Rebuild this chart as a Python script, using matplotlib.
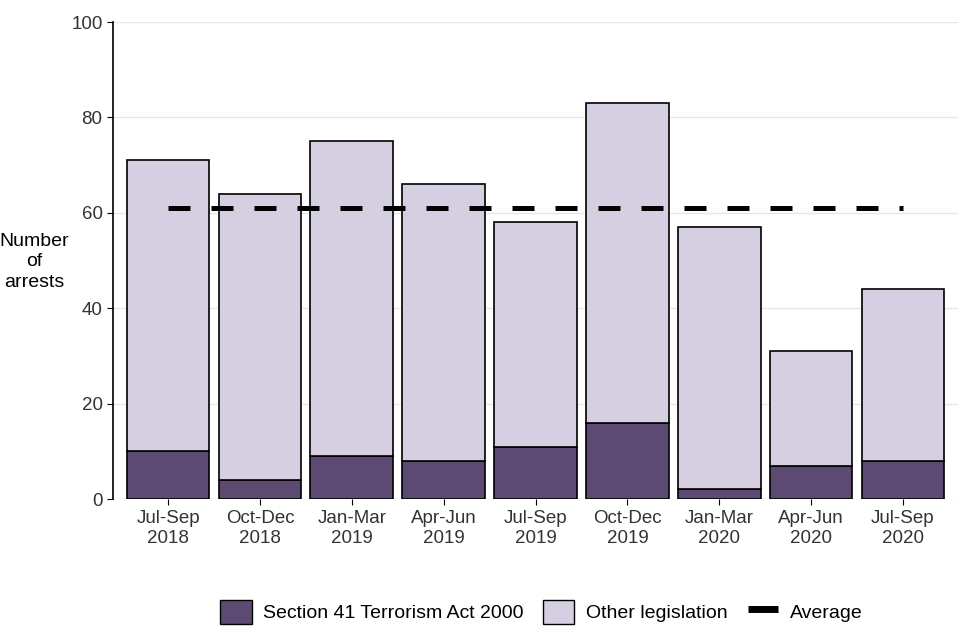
import numpy as np
import matplotlib.pyplot as plt
from matplotlib.patches import Patch
from matplotlib.lines import Line2D

plt.rcParams['font.family'] = ['Liberation Sans', 'DejaVu Sans']

quarters = ['Jul-Sep\n2018', 'Oct-Dec\n2018', 'Jan-Mar\n2019', 'Apr-Jun\n2019',
            'Jul-Sep\n2019', 'Oct-Dec\n2019', 'Jan-Mar\n2020', 'Apr-Jun\n2020',
            'Jul-Sep\n2020']
section41 = [10, 4, 9, 8, 11, 16, 2, 7, 8]
other = [61, 60, 66, 58, 47, 67, 55, 24, 36]
average = 61

dark = '#5c4a72'
light = '#d6cfe1'

fig = plt.figure(figsize=(9.6, 6.4), dpi=100)
ax = fig.add_axes([0.1177, 0.2203, 0.8803, 0.7453])

x = np.arange(len(quarters))
ax.bar(x, section41, width=0.9, color=dark, edgecolor='black', linewidth=1.2, zorder=3)
ax.bar(x, other, bottom=section41, width=0.9, color=light, edgecolor='black',
       linewidth=1.2, zorder=3)
# average line
ax.plot([x[0], x[-1]], [average, average], color='black', linewidth=3.6,
        linestyle=(0, (4.4, 4.2)), dash_capstyle='butt', zorder=4)

ax.set_xlim(-0.6, 8.6)
ax.set_ylim(0, 100)
ax.set_yticks([0, 20, 40, 60, 80, 100])
ax.set_xticks(x)
ax.set_xticklabels(quarters, linespacing=1.25)
ax.tick_params(axis='both', labelsize=13.5, labelcolor='#333333', color='black', length=4)
ax.tick_params(axis='x', pad=4)
ax.yaxis.grid(True, color='#e6e6e6', linewidth=1)
ax.set_axisbelow(True)
for s in ['top', 'right', 'bottom']:
    ax.spines[s].set_visible(False)
ax.spines['left'].set_linewidth(1.2)

fig.text(0.036, 0.591, 'Number\nof\narrests', ha='center', va='center',
         fontsize=14, linespacing=1.25)

handles = [Patch(facecolor=dark, edgecolor='black', label='Section 41 Terrorism Act 2000'),
           Patch(facecolor=light, edgecolor='black', label='Other legislation'),
           Line2D([0], [0], color='black', marker='_', markersize=22, markeredgewidth=5,
                  linestyle='none', label='Average')]
fig.legend(handles=handles, loc='center', bbox_to_anchor=(0.564, 0.044), ncol=3,
           frameon=False, fontsize=14, handlelength=1.6, handleheight=1.5,
           columnspacing=1.0, handletextpad=0.6)

fig.savefig('out.png', dpi=100)
